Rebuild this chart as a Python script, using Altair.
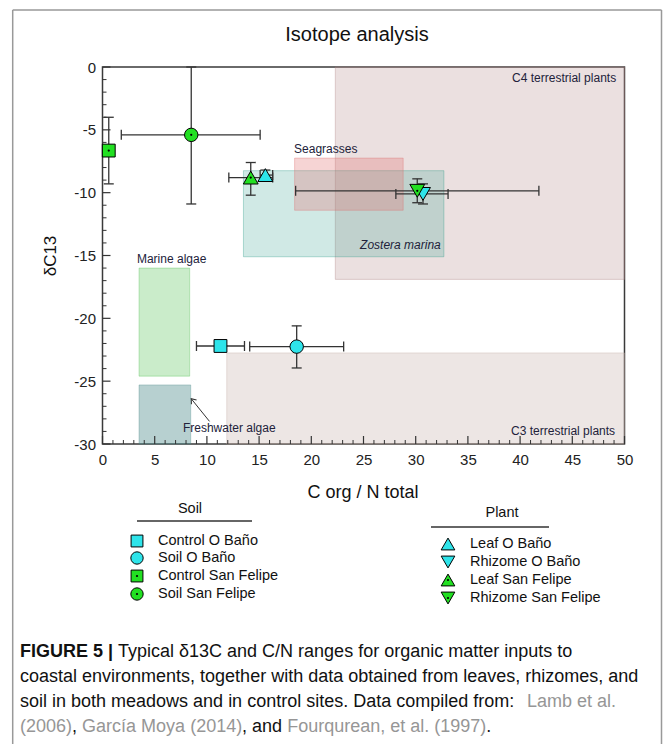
import altair as alt
import pandas as pd

# ---------------- data ----------------
region_names = ["C4 terrestrial plants", "C3 terrestrial plants", "Zostera marina",
                "Seagrasses", "Marine algae", "Freshwater algae"]
region_cn_min = [22.3, 11.9, 13.5, 18.4, 3.5, 3.5]
region_cn_max = [50.0, 50.0, 32.7, 28.8, 8.35, 8.45]
region_d13c_top = [0.0, -22.75, -8.25, -7.25, -16.0, -25.3]
region_d13c_bottom = [-16.9, -30.0, -15.1, -11.4, -24.6, -30.0]

series_names = ["Control O Baño", "Soil O Baño", "Control San Felipe", "Soil San Felipe",
                "Leaf O Baño", "Rhizome O Baño", "Leaf San Felipe", "Rhizome San Felipe"]
series_group = ["Soil", "Soil", "Soil", "Soil", "Plant", "Plant", "Plant", "Plant"]
series_cn = [11.3, 18.6, 0.6, 8.5, 15.6, 30.7, 14.2, 30.15]
series_d13c = [-22.2, -22.25, -6.65, -5.4, -8.6, -10.1, -8.8, -9.85]
cn_low = [9.0, 14.1, None, 1.8, 15.1, 28.1, 12.1, 18.5]
cn_high = [13.6, 23.1, None, 15.1, 16.3, 33.1, 16.3, 41.8]
d13c_low = [None, -23.95, -9.3, -10.9, -9.1, -10.9, -10.2, -10.8]
d13c_high = [None, -20.6, -4.0, 0.0, -8.2, -9.3, -7.6, -8.9]

# ---------------- styles ----------------
region_fill = ["#b08484", "#c4aca4", "#2a9a88", "#e07070", "#50c050", "#4a8a8a"]
region_opacity = [0.25, 0.3, 0.22, 0.3, 0.3, 0.4]
CYAN, GREEN = "#2ee4ea", "#22e022"
series_shape = ["square", "circle", "square", "circle",
                "triangle-up", "triangle-down", "triangle-up", "triangle-down"]
series_color = [CYAN, CYAN, GREEN, GREEN, CYAN, CYAN, GREEN, GREEN]
shape_size = {"square": 165, "circle": 180, "triangle-up": 220, "triangle-down": 220}

W, H = 522, 377
PL, PT = 102.5, 67.0
FONT = "Liberation Sans"
CAP_FONT = "Liberation Sans"
EB = "#333333"

xsc = alt.Scale(domain=[0, 50], nice=False, zero=False)
ysc = alt.Scale(domain=[-30, 0], nice=False, zero=False)
xax = alt.Axis(values=list(range(0, 51, 5)), title=None, ticks=False, domain=False, grid=False,
               labelFont=FONT, labelFontSize=15, labelColor="#222", labelPadding=8,
               labelFlush=False)
yax = alt.Axis(values=list(range(-30, 1, 5)), title=None, ticks=False, domain=False, grid=False,
               labelFont=FONT, labelFontSize=15, labelColor="#222", labelPadding=7,
               labelFlush=False, labelExpr="datum.value + ''")

dummy = pd.DataFrame({"a": [0]})


def X(v):
    return alt.X(v, scale=xsc, axis=xax)


def Y(v):
    return alt.Y(v, scale=ysc, axis=yax)


def text_at(txt, px, py, size, align="left", baseline="middle", font=FONT, weight="normal",
            color="#222", style="normal", angle=0):
    return alt.Chart(dummy).mark_text(
        text=txt, align=align, baseline=baseline, font=font, fontSize=size,
        fontWeight=weight, color=color, fontStyle=style, angle=angle
    ).encode(x=alt.value(px - PL), y=alt.value(py - PT))


def line_at(x1, y1, x2, y2, color="#999", width=1.5):
    return alt.Chart(dummy).mark_rule(color=color, strokeWidth=width).encode(
        x=alt.value(x1 - PL), x2=alt.value(x2 - PL), y=alt.value(y1 - PT), y2=alt.value(y2 - PT))


layers = []

# regions
reg = pd.DataFrame({"name": region_names, "x1": region_cn_min, "x2": region_cn_max,
                    "y1": region_d13c_top, "y2": region_d13c_bottom,
                    "fill": region_fill, "op": region_opacity})
layers.append(alt.Chart(reg).mark_rect(strokeWidth=1).encode(
    x=X("x1:Q"), x2="x2:Q", y=Y("y1:Q"), y2="y2:Q",
    fill=alt.Fill("fill:N", scale=None), fillOpacity=alt.FillOpacity("op:Q", scale=None),
    stroke=alt.Stroke("fill:N", scale=None), strokeOpacity=alt.value(0.35)))

# region labels (annotation anchors)
lab = pd.DataFrame({
    "t": region_names,
    "x": [49.2, 49.1, 32.4, 18.35, 3.3, 7.7],
    "y": [-0.9, -29.0, -14.15, -6.5, -15.3, -28.7],
})
for i, row in lab.iterrows():
    align = "right" if i < 3 else "left"
    style = "italic" if row.t == "Zostera marina" else "normal"
    layers.append(alt.Chart(lab.iloc[[i]]).mark_text(
        align=align, baseline="middle", font=FONT, fontSize=12, color="#22223a", fontStyle=style
    ).encode(x=X("x:Q"), y=Y("y:Q"), text="t:N"))

# freshwater arrow
arr = pd.DataFrame({"x": [10.25], "y": [-28.2], "x2": [8.5], "y2": [-26.4]})
layers.append(alt.Chart(arr).mark_rule(color="#333", strokeWidth=1).encode(
    x=X("x:Q"), y=Y("y:Q"), x2="x2:Q", y2="y2:Q"))
layers.append(alt.Chart(arr).mark_point(shape="M-0.6,0.8L0,0L0.6,0.8", filled=False, size=120,
                                        color="#333", strokeWidth=1, angle=321, opacity=1).encode(
    x=X("x2:Q"), y=Y("y2:Q")))

# axis ticks (inward)
maj_x = pd.DataFrame({"v": list(range(0, 51, 5))})
min_x = pd.DataFrame({"v": [v for v in range(0, 51) if v % 5]})
maj_y = pd.DataFrame({"v": list(range(-30, 1, 5))})
min_y = pd.DataFrame({"v": [v for v in range(-30, 1) if v % 5]})
layers.append(alt.Chart(maj_x).mark_rule(color="#333", strokeWidth=1.2).encode(
    x=X("v:Q"), y=alt.value(H), y2=alt.value(H - 8)))
layers.append(alt.Chart(min_x).mark_rule(color="#333", strokeWidth=1).encode(
    x=X("v:Q"), y=alt.value(H), y2=alt.value(H - 4)))
layers.append(alt.Chart(maj_y).mark_rule(color="#333", strokeWidth=1.2).encode(
    y=Y("v:Q"), x=alt.value(0), x2=alt.value(8)))
layers.append(alt.Chart(min_y).mark_rule(color="#333", strokeWidth=1).encode(
    y=Y("v:Q"), x=alt.value(0), x2=alt.value(4)))

# error bars
pts = pd.DataFrame({"name": series_names, "x": series_cn, "y": series_d13c,
                    "xlo": cn_low, "xhi": cn_high, "ylo": d13c_low, "yhi": d13c_high,
                    "shape": series_shape, "col": series_color})
xe = pts.dropna(subset=["xlo"])
ye = pts.dropna(subset=["ylo"])
layers.append(alt.Chart(xe).mark_rule(color=EB, strokeWidth=1.3).encode(
    x=X("xlo:Q"), x2="xhi:Q", y=Y("y:Q")))
for f in ["xlo", "xhi"]:
    layers.append(alt.Chart(xe).mark_tick(orient="vertical", size=10, thickness=1.3, color=EB, opacity=1).encode(
        x=X(f + ":Q"), y=Y("y:Q")))
layers.append(alt.Chart(ye).mark_rule(color=EB, strokeWidth=1.3).encode(
    y=Y("ylo:Q"), y2="yhi:Q", x=X("x:Q")))
for f in ["ylo", "yhi"]:
    layers.append(alt.Chart(ye).mark_tick(orient="horizontal", size=10, thickness=1.3, color=EB, opacity=1).encode(
        y=Y(f + ":Q"), x=X("x:Q")))

# points
for i in range(len(series_names)):
    shp = series_shape[i]
    layers.append(alt.Chart(pts.iloc[[i]]).mark_point(
        shape=shp, filled=True, size=shape_size[shp], fill=series_color[i],
        stroke="black", strokeWidth=1, opacity=1
    ).encode(x=X("x:Q"), y=Y("y:Q")))
    if "San Felipe" in series_names[i]:
        layers.append(alt.Chart(pts.iloc[[i]]).mark_point(
            shape="circle", filled=True, size=5, color="black", opacity=1
        ).encode(x=X("x:Q"), y=Y("y:Q")))

# titles
layers.append(text_at("Isotope analysis", 357, 35, 20, align="center", color="#111"))
layers.append(text_at("C org / N total", 363, 493, 18, align="center", color="#111"))
layers.append(text_at("δC13", 51, 256, 17, align="center", color="#111", angle=270))

# legends
leg_rows = {"Soil": [541, 558, 576, 594], "Plant": [544, 562, 580, 598]}
leg_mx = {"Soil": 137, "Plant": 448}
leg_tx = {"Soil": 158, "Plant": 470}
layers.append(text_at("Soil", 190, 509, 14.5, align="center", color="#111"))
layers.append(line_at(137, 521, 252, 521, color="#333", width=1.3))
layers.append(text_at("Plant", 502, 513, 14.5, align="center", color="#111"))
layers.append(line_at(431, 527, 549, 527, color="#333", width=1.3))
counters = {"Soil": 0, "Plant": 0}
for i, nm in enumerate(series_names):
    g = series_group[i]
    r = leg_rows[g][counters[g]]
    counters[g] += 1
    shp = series_shape[i]
    layers.append(alt.Chart(dummy).mark_point(
        shape=shp, filled=True, size=shape_size[shp] * 0.85, fill=series_color[i],
        stroke="black", strokeWidth=1, opacity=1
    ).encode(x=alt.value(leg_mx[g] - PL), y=alt.value(r - PT)))
    if "San Felipe" in nm:
        layers.append(alt.Chart(dummy).mark_point(
            shape="circle", filled=True, size=5, color="black", opacity=1
        ).encode(x=alt.value(leg_mx[g] - PL), y=alt.value(r - PT)))
    layers.append(text_at(nm, leg_tx[g], r, 14.5, color="#111"))

# figure panel border
layers.append(line_at(12.7, 10, 12.7, 744))
layers.append(line_at(12.7, 10, 661.5, 10))
layers.append(line_at(661.5, 10, 661.5, 744))

# caption
GRAY = "#969696"
BLK = "#111"
CS = 18
layers.append(text_at("FIGURE 5 |", 20, 652, CS, font=CAP_FONT, weight="bold", color=BLK))
layers.append(text_at("Typical δ13C and C/N ranges for organic matter inputs to", 118, 652, CS,
                      font=CAP_FONT, color=BLK))
layers.append(text_at("coastal environments, together with data obtained from leaves, rhizomes, and",
                      20, 677, CS, font=CAP_FONT, color=BLK))
layers.append(text_at("soil in both meadows and in control sites. Data compiled from:", 20, 702, CS,
                      font=CAP_FONT, color=BLK))
layers.append(text_at("Lamb et al.", 527, 702, CS, font=CAP_FONT, color=GRAY))
segs = [("(2006)", 20, GRAY), (",", 72.0, BLK), ("García Moya (2014)", 82.1, GRAY),
        (", and", 242.1, BLK), ("Fourqurean, et al. (1997)", 287.2, GRAY), (".", 486.2, BLK)]
for t, x0, c in segs:
    layers.append(text_at(t, x0, 727, CS, font=CAP_FONT, color=c))

chart = alt.layer(*layers).properties(
    width=W, height=H,
    padding={"left": PL, "top": PT, "right": 663 - PL - W, "bottom": 744 - PT - H},
    autosize=alt.AutoSizeParams(type="none"),
    background="white",
).configure_view(stroke="#3a3a3a", strokeWidth=1.5)

chart.save("out.html", embed_options={"renderer": "svg", "actions": False})
